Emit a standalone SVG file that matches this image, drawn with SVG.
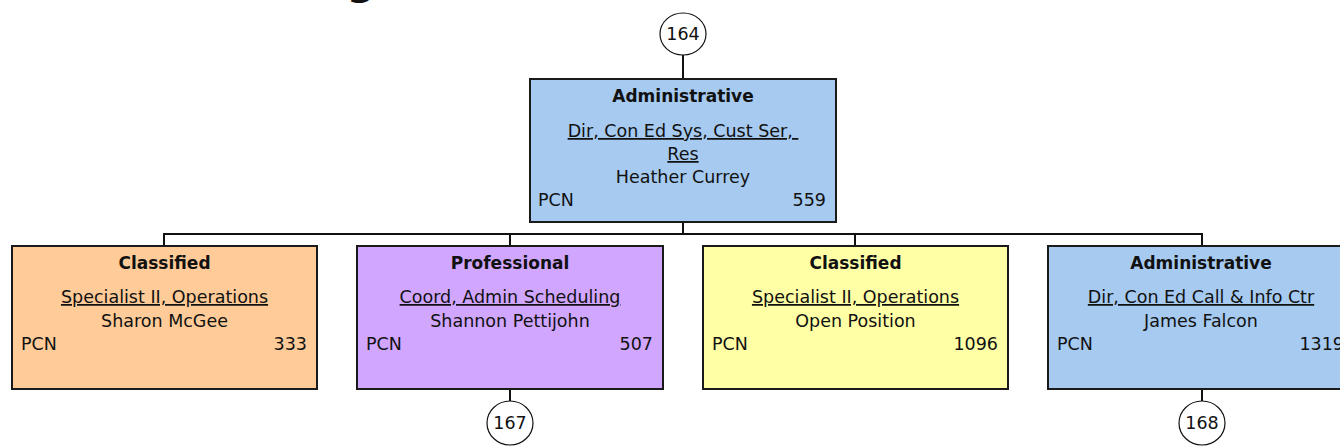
<svg xmlns="http://www.w3.org/2000/svg" width="1340" height="447" viewBox="0 0 1340 447">
<style>
.box{stroke:#1a1a1a;stroke-width:2}
.adm{fill:#A6CAF0}
.cls1{fill:#FFCC99}
.pro{fill:#D0A6FF}
.cls2{fill:#FFFFA6}
.t{font-family:"DejaVu Sans",Verdana,sans-serif;font-size:17.5px;fill:#111}
.b{font-weight:bold;font-size:17px}
.c{text-anchor:middle}
.r{text-anchor:end}
.u{text-decoration:underline}
.conn line{stroke:#111;stroke-width:2}
.bub ellipse{fill:#fff;stroke:#111;stroke-width:1.2}
</style>
<rect width="1340" height="447" fill="#fff"/>
<text x="361" y="-6" class="t c" style="font-size:40px;font-weight:bold">g</text>
<g id="connectors" class="conn">
<line x1="683" y1="55" x2="683" y2="79"/>
<line x1="683" y1="222" x2="683" y2="234"/>
<line x1="164" y1="234" x2="1202" y2="234"/>
<line x1="164" y1="233" x2="164" y2="246"/>
<line x1="510" y1="233" x2="510" y2="246"/>
<line x1="855" y1="233" x2="855" y2="246"/>
<line x1="1202" y1="233" x2="1202" y2="246"/>
<line x1="510" y1="389" x2="510" y2="401"/>
<line x1="1202" y1="389" x2="1202" y2="401"/>
</g>
<g id="bubble164" class="bub"><ellipse cx="683" cy="34" rx="23" ry="21"/><text x="683" y="40" class="t c">164</text></g>
<g id="node559">
<rect class="box adm" x="530" y="79" width="306" height="143"/>
<text x="683" y="102" class="t b c">Administrative</text>
<text x="683" y="137" class="t c u" style="white-space:pre">Dir, Con Ed Sys, Cust Ser, </text>
<text x="683" y="160" class="t c u">Res</text>
<text x="683" y="183" class="t c">Heather Currey</text>
<text x="538" y="206" class="t">PCN</text>
<text x="826" y="206" class="t r">559</text>
</g>
<g id="node333">
<rect class="box cls1" x="12" y="246" width="305" height="143"/>
<text x="164.5" y="269" class="t b c">Classified</text>
<text x="164.5" y="303" class="t c u">Specialist II, Operations</text>
<text x="164.5" y="327" class="t c">Sharon McGee</text>
<text x="21" y="350" class="t">PCN</text>
<text x="307" y="350" class="t r">333</text>
</g>
<g id="node507">
<rect class="box pro" x="357" y="246" width="306" height="143"/>
<text x="510" y="269" class="t b c">Professional</text>
<text x="510" y="303" class="t c u">Coord, Admin Scheduling</text>
<text x="510" y="327" class="t c">Shannon Pettijohn</text>
<text x="366" y="350" class="t">PCN</text>
<text x="653" y="350" class="t r">507</text>
</g>
<g id="node1096">
<rect class="box cls2" x="703" y="246" width="305" height="143"/>
<text x="855.5" y="269" class="t b c">Classified</text>
<text x="855.5" y="303" class="t c u">Specialist II, Operations</text>
<text x="855.5" y="327" class="t c">Open Position</text>
<text x="712" y="350" class="t">PCN</text>
<text x="998" y="350" class="t r">1096</text>
</g>
<g id="node1319">
<rect class="box adm" x="1048" y="246" width="306" height="143"/>
<text x="1201" y="269" class="t b c">Administrative</text>
<text x="1201" y="303" class="t c u">Dir, Con Ed Call &amp; Info Ctr</text>
<text x="1201" y="327" class="t c">James Falcon</text>
<text x="1057" y="350" class="t">PCN</text>
<text x="1344" y="350" class="t r">1319</text>
</g>
<g id="bubble167" class="bub"><ellipse cx="510" cy="423" rx="23" ry="22"/><text x="510" y="429" class="t c">167</text></g>
<g id="bubble168" class="bub"><ellipse cx="1202" cy="423" rx="23" ry="22"/><text x="1202" y="429" class="t c">168</text></g>
</svg>
